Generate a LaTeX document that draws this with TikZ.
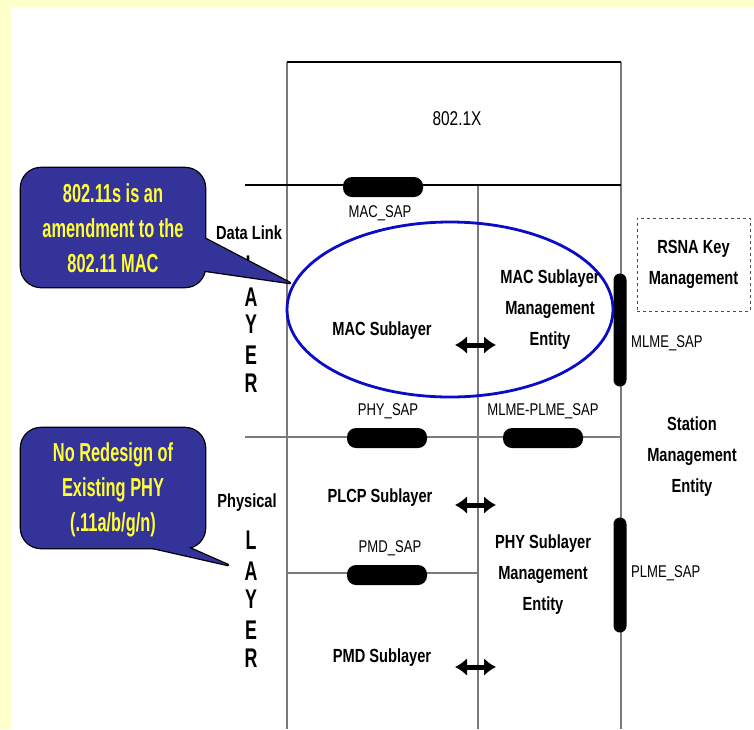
\documentclass[tikz,border=0pt]{standalone}
\usepackage{fontspec}
\setmainfont{Liberation Sans}
\usetikzlibrary{arrows.meta}
\definecolor{bgyellow}{HTML}{FFFFCC}
\definecolor{callblue}{HTML}{333399}
\definecolor{callyellow}{HTML}{FFFF33}
\definecolor{ellblue}{HTML}{0C0CC8}
\definecolor{linegray}{HTML}{7A7A7A}
\newcommand\nar[1]{\scalebox{0.77}[1]{#1}}
\newcommand\cnar[1]{\scalebox{0.63}[1]{#1}}
\newcommand\lnar[1]{\scalebox{0.66}[1.0]{#1}}
\tikzset{
  boldlbl/.style={font=\fontsize{19}{31}\selectfont\bfseries, align=center, inner sep=0pt},
  saplbl/.style={font=\fontsize{17}{20}\selectfont, inner sep=0pt},
  layerltr/.style={font=\fontsize{27}{27}\selectfont\bfseries, inner sep=0pt},
  calltext/.style={font=\fontsize{26}{35}\selectfont\bfseries, text=callyellow, align=center, inner sep=0pt},
  hpill/.style={fill=black, rounded corners=9pt, minimum width=80pt, minimum height=20pt, inner sep=0pt},
  vpill/.style={fill=black, rounded corners=6.5pt, minimum width=13pt, inner sep=0pt},
  gline/.style={draw=linegray, line width=1.2pt},
  kline/.style={draw=black, line width=2pt},
  dblarrow/.style={line width=5pt, {Latex[length=12pt,width=18pt]}-{Latex[length=12pt,width=18pt]}},
  callfill/.style={fill=callblue},
  calledge/.style={draw=black, line width=2.6pt, line join=round}
}
\begin{document}
\begin{tikzpicture}[x=1pt,y=-1pt]
\useasboundingbox (0,0) rectangle (754,729);
\fill[bgyellow] (0,0) rectangle (754,729);
\fill[white] (11,7) rectangle (754,729);

% structure lines
\draw[gline] (287,62) -- (287,729);
\draw[gline] (621,62) -- (621,729);
\draw[gline] (478,185) -- (478,729);
\draw[kline] (287,62) -- (621,62);
\draw[kline] (245,185) -- (621,185);
\draw[gline] (245,437) -- (621,437);
\draw[gline] (287,573) -- (478,573);

% 802.1X
\node[font=\fontsize{20}{24}\selectfont, inner sep=0pt] (x8021) at (457,119) {\nar{802.1X}};

% SAP pills
\node[hpill] (macsap) at (383,187) {};
\node[hpill] (physap) at (387,438) {};
\node[hpill] (mlmeplmesap) at (543,438) {};
\node[hpill] (pmdsap) at (387,575) {};
\node[vpill, minimum height=113pt] (mlmesap) at (620,330) {};
\node[vpill, minimum height=115pt] (plmesap) at (620,575) {};

% SAP labels
\node[saplbl] (lmacsap) at (380,213) {\nar{MAC\_SAP}};
\node[saplbl] (lphysap) at (388,411) {\nar{PHY\_SAP}};
\node[saplbl] (lmlmeplme) at (543,411) {\nar{MLME-PLME\_SAP}};
\node[saplbl] (lpmdsap) at (390,548) {\nar{PMD\_SAP}};
\node[saplbl, anchor=west] (lmlmesap) at (631,343) {\nar{MLME\_SAP}};
\node[saplbl, anchor=west] (lplmesap) at (631,573) {\nar{PLME\_SAP}};

% ellipse
\draw[ellblue, line width=2.8pt] (450,309.5) ellipse [x radius=163, y radius=87.5];

% bold labels
\node[boldlbl] (macsub) at (382,331) {\nar{MAC Sublayer}};
\node[boldlbl] (mlme) at (550,310) {\nar{MAC Sublayer}\\\nar{Management}\\\nar{Entity}};
\node[boldlbl] (plcp) at (380,498) {\nar{PLCP Sublayer}};
\node[boldlbl] (pmd) at (382,658) {\nar{PMD Sublayer}};
\node[boldlbl] (plme) at (543,575) {\nar{PHY Sublayer}\\\nar{Management}\\\nar{Entity}};
\node[boldlbl] (sme) at (692,457) {\nar{Station}\\\nar{Management}\\\nar{Entity}};
\node[boldlbl, draw=black!70, dashed, line width=1pt, minimum width=113pt, minimum height=93pt] (rsna) at (693.5,264.5) {\nar{RSNA Key}\\\nar{Management}};

% double arrows
\coordinate (a1l) at (455,345); \coordinate (a1r) at (496,345);
\coordinate (a2l) at (455,505); \coordinate (a2r) at (496,505);
\coordinate (a3l) at (455,667); \coordinate (a3r) at (496,667);
\draw[dblarrow] (a1l) -- (a1r);
\draw[dblarrow] (a2l) -- (a2r);
\draw[dblarrow] (a3l) -- (a3r);

% layer labels
\node[boldlbl] (datalink) at (249,233) {\nar{Data Link}};
\node[layerltr] (dl1) at (251,265) {\lnar{L}};
\node[layerltr] (dl2) at (251,297) {\lnar{A}};
\node[layerltr] (dl3) at (251,324) {\lnar{Y}};
\node[layerltr] (dl4) at (251,355) {\lnar{E}};
\node[layerltr] (dl5) at (251,383) {\lnar{R}};
\node[boldlbl] (physical) at (247,503) {\nar{Physical}};
\node[layerltr] (ph1) at (251,540) {\lnar{L}};
\node[layerltr] (ph2) at (251,571) {\lnar{A}};
\node[layerltr] (ph3) at (251,599) {\lnar{Y}};
\node[layerltr] (ph4) at (251,630) {\lnar{E}};
\node[layerltr] (ph5) at (251,658) {\lnar{R}};

% callout 1
\draw[calledge, rounded corners=20pt] (21,168) rectangle (205,287);
\draw[calledge] (200,236) -- (290,283) -- (200,270) -- cycle;
\fill[callfill, rounded corners=20pt] (21,168) rectangle (205,287);
\fill[callfill] (200,236) -- (290,283) -- (200,270) -- cycle;
\node[calltext] (c1) at (113,228) {\cnar{802.11s is an}\\\cnar{amendment to the}\\\cnar{802.11 MAC}};

% callout 2
\draw[calledge, rounded corners=20pt] (21,428) rectangle (205,548);
\draw[calledge] (131,543) -- (228,565) -- (178,543) -- cycle;
\fill[callfill, rounded corners=20pt] (21,428) rectangle (205,548);
\fill[callfill] (131,543) -- (228,565) -- (178,543) -- cycle;
\node[calltext] (c2) at (113,490) {\cnar{No Redesign of}\\\cnar{Existing PHY}\\\cnar{(.11a/b/g/n)}};
\end{tikzpicture}
\end{document}
